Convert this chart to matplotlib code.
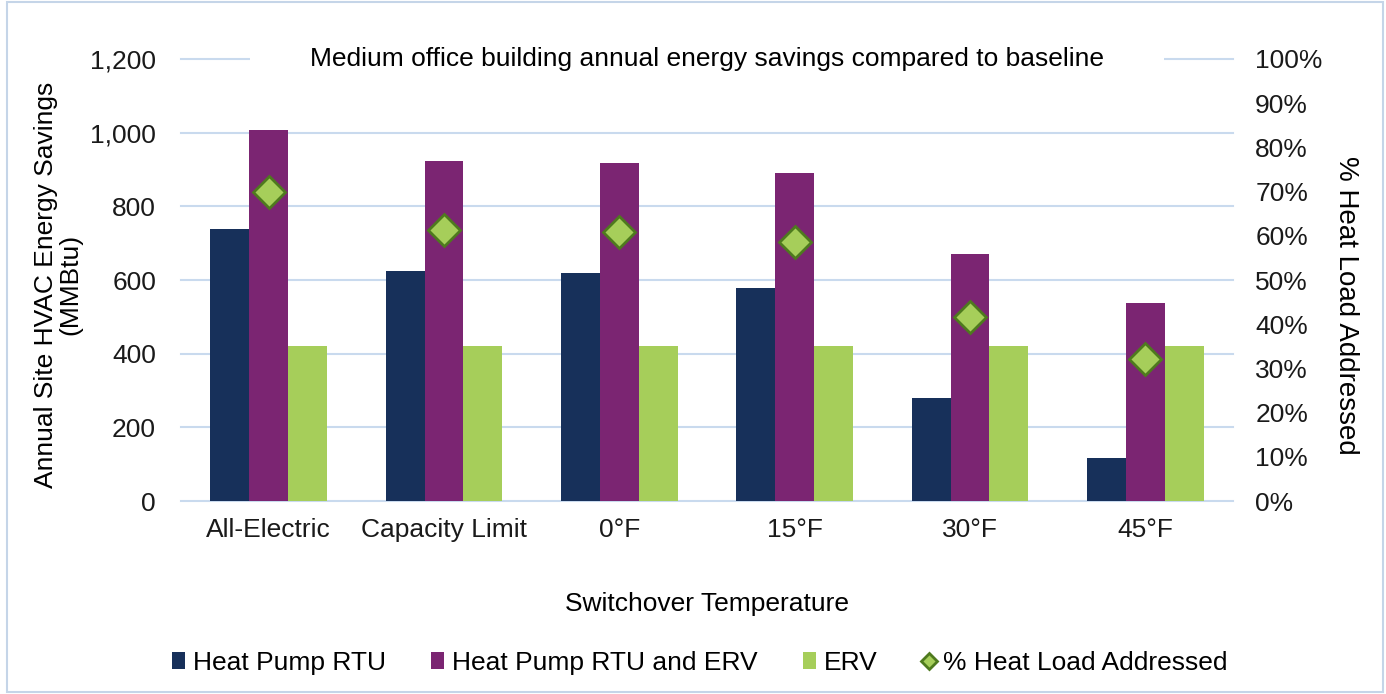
import matplotlib.pyplot as plt
import numpy as np
from matplotlib.patches import Rectangle
from matplotlib.ticker import FuncFormatter, PercentFormatter

plt.rcParams['font.family'] = ['Liberation Sans', 'DejaVu Sans']

# data
categories = ["All-Electric", "Capacity Limit", "0°F", "15°F", "30°F", "45°F"]
hp_rtu = [738, 624, 619, 578, 280, 117]
hp_rtu_erv = [1007, 922, 918, 890, 670, 537]
erv = [420, 420, 420, 420, 420, 420]
heat_load_pct = [69.8, 61.3, 60.9, 58.6, 41.6, 32.1]

navy = "#17305A"
purple = "#7B2572"
green = "#A6CE5A"
grid_col = "#C9DAEE"
fs = 19

fig = plt.figure(figsize=(13.86, 6.94), dpi=100)
ax = fig.add_axes([0.1306, 0.278, 0.759, 0.637])
ax2 = ax.twinx()

x = np.arange(len(categories))
w = 0.222
ax.bar(x - w, hp_rtu, w, color=navy, label="Heat Pump RTU", zorder=2)
ax.bar(x, hp_rtu_erv, w, color=purple, label="Heat Pump RTU and ERV", zorder=2)
ax.bar(x + w, erv, w, color=green, label="ERV", zorder=2)

ax2.plot(x, heat_load_pct, linestyle="none", marker="D", markersize=16,
         markerfacecolor=green, markeredgecolor="#4E7A1E", markeredgewidth=2,
         label="% Heat Load Addressed", zorder=3)

ax.set_xlim(-0.5, len(categories) - 0.5)
ax.set_ylim(0, 1200)
ax.set_yticks(range(0, 1201, 200))
ax.yaxis.set_major_formatter(FuncFormatter(lambda v, p: f"{int(v):,}"))
ax2.set_ylim(0, 100)
ax2.set_yticks(range(0, 101, 10))
ax2.yaxis.set_major_formatter(PercentFormatter(decimals=0))

ax.set_xticks(x)
ax.set_xticklabels(categories)
ax.grid(axis="y", color=grid_col, linewidth=1.5, zorder=0)
for gl in ax.get_ygridlines():
    gl.set_clip_on(False)
ax.set_axisbelow(True)
for a in (ax, ax2):
    for s in a.spines.values():
        s.set_visible(False)
    a.tick_params(length=0, labelsize=fs, colors="#1a1a1a")
ax.tick_params(axis="y", pad=18)
ax2.tick_params(axis="y", pad=16)
ax.tick_params(axis="x", pad=12)

ax.set_xlabel("Switchover Temperature", fontsize=fs, labelpad=36)
ax.set_ylabel("Annual Site HVAC Energy Savings\n(MMBtu)", fontsize=fs, linespacing=1.0,
              ha="center", va="center")
ax.yaxis.set_label_coords(-0.117, 0.489)
ax2.set_ylabel("% Heat Load Addressed", fontsize=20, rotation=-90,
               ha="center", va="center")
ax2.yaxis.set_label_coords(1.107, 0.443)

# title sits on the top gridline with a white gap around it
ax.add_patch(Rectangle((0.0656, 0.955), 0.869, 0.09, transform=ax.transAxes,
                       facecolor="white", edgecolor="none", clip_on=False, zorder=1))
ax.text(0.5, 1.0, "Medium office building annual energy savings compared to baseline",
        transform=ax.transAxes, ha="center", va="center", fontsize=fs, zorder=5)

h1, l1 = ax.get_legend_handles_labels()
h2, l2 = ax2.get_legend_handles_labels()
fig.legend(h1 + h2, l1 + l2, loc="center", bbox_to_anchor=(0.505, 0.045), ncol=4,
           frameon=False, fontsize=fs, handlelength=0.5, handleheight=0.6,
           handletextpad=0.3, columnspacing=1.7, markerscale=0.5)

fig.patches.append(Rectangle((0.005, 0.003), 0.993, 0.994, transform=fig.transFigure,
                             fill=False, edgecolor="#C5D5E8", linewidth=1.5))

fig.savefig("out.png", dpi=100)
